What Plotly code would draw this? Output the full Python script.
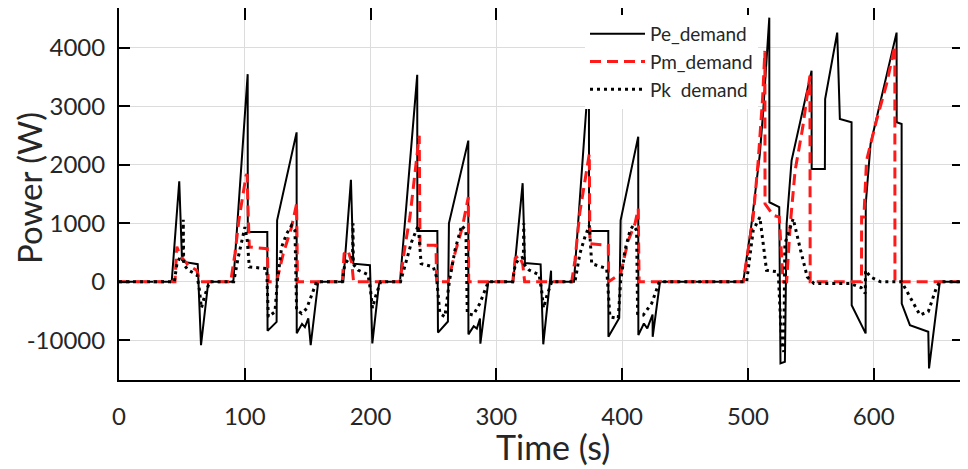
import plotly.graph_objects as go

# ---------------- data ----------------
pe_t = [0, 41.9, 47.9, 50.1, 51.5, 62.6, 65.2, 71.0,
        90.9, 102.3, 102.4, 117.9, 118.1, 125.3, 125.7, 141.2, 141.3, 145.5, 147.8, 150.5, 152.4, 158.4,
        178.3, 184.4, 186.3, 199.5, 201.4, 206.9,
        223.4, 237.1, 237.2, 253.1, 253.6, 261.5, 262.3, 277.7, 277.8, 282.0, 284.5, 287.0, 287.3, 293.6,
        313.4, 320.9, 322.7, 335.2, 337.3, 343.5, 343.6,
        361.7, 373.6, 373.7, 389.0, 389.1, 397.7, 398.8, 412.8, 412.9, 417.3, 420.0, 424.2, 424.3, 430.1,
        496.3, 502.9, 506.9, 509.5, 512.2, 517.0, 517.1, 524.9, 525.9, 529.4, 530.8, 534.7, 550.6, 550.7,
        561.2, 561.4, 571.0, 573.1, 582.4, 582.5, 593.6, 593.7, 597.5, 618.2, 618.3, 622.2, 622.3, 628.8,
        643.4, 644.0, 652.6, 671]
pe_p = [0, 0, 1720, 370, 340, 300, -1084, 0,
        0, 3552, 850, 850, -840, -686, 1050, 2556, -880, -720, -775, -628, -1084, 0,
        0, 1744, 310, 282, -1055, 0,
        0, 3541, 867, 867, -870, -680, 1000, 2415, -900, -760, -800, -630, -1060, 0,
        0, 1686, 321, 298, -1070, 190, 0,
        0, 3598, 867, 867, -941, -620, 1050, 2483, -913, -714, -799, -560, -942, 0,
        0, 993, 1732, 2188, 2927, 4519, 1360, 1277, -1396, -1368, 993, 2073, 3609, 1931,
        1931, 3126, 4263, 2785, 2728, -401, -884, 1334, 2358, 4263, 2728, 2700, -372, -742,
        -856, -1482, 0, 0]

pm_t = [0, 44.5, 46.0, 48.5, 55.1, 61.8, 64.4,
        88.8, 92.2, 95.3, 101.0, 101.8, 102.8, 103.6, 117.9, 118.7, 125.3, 130.6, 137.2, 141.2, 141.9,
        177.5, 179.0, 182.0, 185.0, 186.5,
        223.4, 227.3, 231.3, 235.3, 238.7, 239.3, 252.0, 252.5, 261.6, 267.0, 273.0, 277.7, 278.0,
        313.0, 315.0, 318.0, 321.0, 322.5,
        359.9, 362.5, 366.4, 373.9, 374.4, 389.0, 389.2, 398.8, 404.9, 410.2, 412.8, 413.5,
        496.3, 504.2, 508.2, 511.7, 513.5, 513.6, 520.2, 524.9, 528.0, 530.8, 533.5, 537.5, 543.6,
        549.3, 549.5, 590.3, 590.4, 592.2, 594.3, 602.2, 610.2, 616.8, 616.9, 671]
pm_p = [0, 0, 600, 450, 282, 196, 0,
        0, 481, 1050, 1817, 1840, 1106, 594, 566, 0, 0, 481, 935, 1334, 0,
        0, 480, 540, 330, 0,
        0, 594, 1106, 1817, 2500, 623, 623, 0, 0, 481, 935, 1450, 0,
        0, 400, 450, 300, 0,
        0, 370, 1191, 2188, 651, 623, 0, 140, 708, 993, 1249, 0,
        0, 1106, 2073, 3154, 3950, 1334, 1135, 1106, 0, 0, 935, 1900, 2642,
        3524, 0, 0, 1106, 1106, 2073, 2756, 3382, 4036, 0, 0]

pk_t = [0, 44, 46, 48.5, 50.8, 51.1, 51.4, 55, 62, 64, 65.5, 68, 72,
        91.2, 94.8, 97.5, 100.1, 102, 103.6, 117.4, 118.7, 124, 125.9, 129.3, 133.3, 137.2, 139.9,
        141.2, 145.2, 149.2, 151.8, 157.1,
        177.5, 179.5, 183, 185.7, 186, 186.3, 190, 198, 200, 201.5, 204, 208,
        223.8, 228.6, 232.6, 237.9, 240.2, 249.9, 252.4, 255.1, 259.1, 262.6, 267.1, 272.4, 275.8,
        276.9, 281.6, 286.9, 293.6,
        313, 315, 318.5, 321.5, 321.8, 322.1, 326, 334, 336, 337.5, 340, 344,
        362.5, 366.4, 370.4, 373.9, 375.8, 387.7, 390.3, 396.9, 398.8, 402.3, 406.3, 408.9, 411.5,
        412.3, 416.8, 423.5, 429.6,
        499, 504.2, 509.5, 514.8, 524.1, 526.8, 528.5, 529.4, 536, 541.9, 547.2, 552.5, 581.4,
        590, 593.3, 593.5, 597.5, 605.5, 622.2, 630.2, 636.8, 643.4, 650.1, 652.8, 671]
pk_p = [0, 0, 300, 420, 420, 1060, 300, 200, 120, -150, -450, -250, 0,
        0, 420, 680, 935, 705, 253, 225, -600, -515, 0, 594, 822, 964, 879,
        -486, -543, -458, -316, 0,
        0, 300, 400, 420, 1000, 300, 200, 120, -150, -450, -250, 0,
        0, 370, 680, 964, 310, 253, 85, -543, -600, 0, 540, 964, 879,
        -543, -570, -370, 0,
        0, 300, 400, 420, 1000, 300, 200, 120, -150, -450, -250, 0,
        0, 480, 765, 964, 310, 225, -600, -628, 0, 540, 879, 964, 879,
        -543, -570, -370, 0,
        0, 879, 1106, 196, 168, -1055, -1200, 651, 1080, 537, 82, -30, -30,
        -100, -200, 195, 82, 0, 0, -313, -569, -512, -85, 0, 0]

x_ticks = [0, 100, 200, 300, 400, 500, 600]
y_ticks = [-1000, 0, 1000, 2000, 3000, 4000]
y_tick_text = ["-10000", "0", "1000", "2000", "3000", "4000"]
x_title = "Time (s)"
y_title = "Power (W)"

FONT = "Lato"
TXT = "#262626"

# The page body has an 8px default margin, so the figure is sized/offset to
# land on the 968x469 window the same way the reference does.
OFF = 8
W, H = 968 - OFF, 469 - OFF
PL, PR, PT, PB = 119 - OFF, 963 - OFF, 7 - OFF, 380 - OFF  # plot box in figure px
PT = max(PT, 0)
PW, PH = PR - PL, PB - PT

fig = go.Figure()
fig.add_trace(go.Scatter(x=pe_t, y=pe_p, mode="lines", name="Pe_demand",
                         line=dict(color="black", width=2)))
fig.add_trace(go.Scatter(x=pm_t, y=pm_p, mode="lines", name="Pm_demand",
                         line=dict(color="#ff1a1a", width=3, dash="11px,6px")))
fig.add_trace(go.Scatter(x=pk_t, y=pk_p, mode="lines", name="Pk\u00a0\u00a0demand",
                         line=dict(color="black", width=3, dash="3px,4px")))

axis_common = dict(showline=True, linecolor="black", linewidth=2, mirror="allticks",
                   ticks="inside", tickwidth=2, tickcolor="black", automargin=False,
                   showgrid=True, gridcolor="#dcdcdc", gridwidth=1, zeroline=False,
                   tickfont=dict(family=FONT, size=24, color=TXT))

fig.update_xaxes(range=[0, 671], tickvals=x_ticks, ticklen=12, ticklabelstandoff=14,
                 **axis_common)
fig.update_yaxes(range=[-1681, 4684], tickvals=y_ticks, ticktext=y_tick_text, ticklen=11,
                 ticklabelstandoff=7, **axis_common)


def px_x(x):  # window px -> paper x
    return (x - OFF - PL) / PW


def px_y(y):  # window px -> paper y
    return (PB - (y - OFF)) / PH


fig.update_layout(width=W, height=H, margin=dict(l=PL, r=W - PR, t=PT, b=H - PB),
                  plot_bgcolor="white", paper_bgcolor="white",
                  legend=dict(x=px_x(585), y=px_y(15), xanchor="left", yanchor="top",
                              bgcolor="white", font=dict(family=FONT, size=19, color=TXT),
                              itemwidth=55, tracegroupgap=0),
                  showlegend=True,
                  annotations=[
                      dict(text=x_title, xref="paper", yref="paper",
                           x=px_x(553), y=px_y(446),
                           xanchor="center", yanchor="middle", showarrow=False,
                           font=dict(family=FONT, size=34, color=TXT)),
                      dict(text=y_title, xref="paper", yref="paper",
                           x=px_x(29), y=px_y(188), textangle=-90,
                           xanchor="center", yanchor="middle", showarrow=False,
                           font=dict(family=FONT, size=33, color=TXT)),
                  ])

fig.write_html("out.html")
